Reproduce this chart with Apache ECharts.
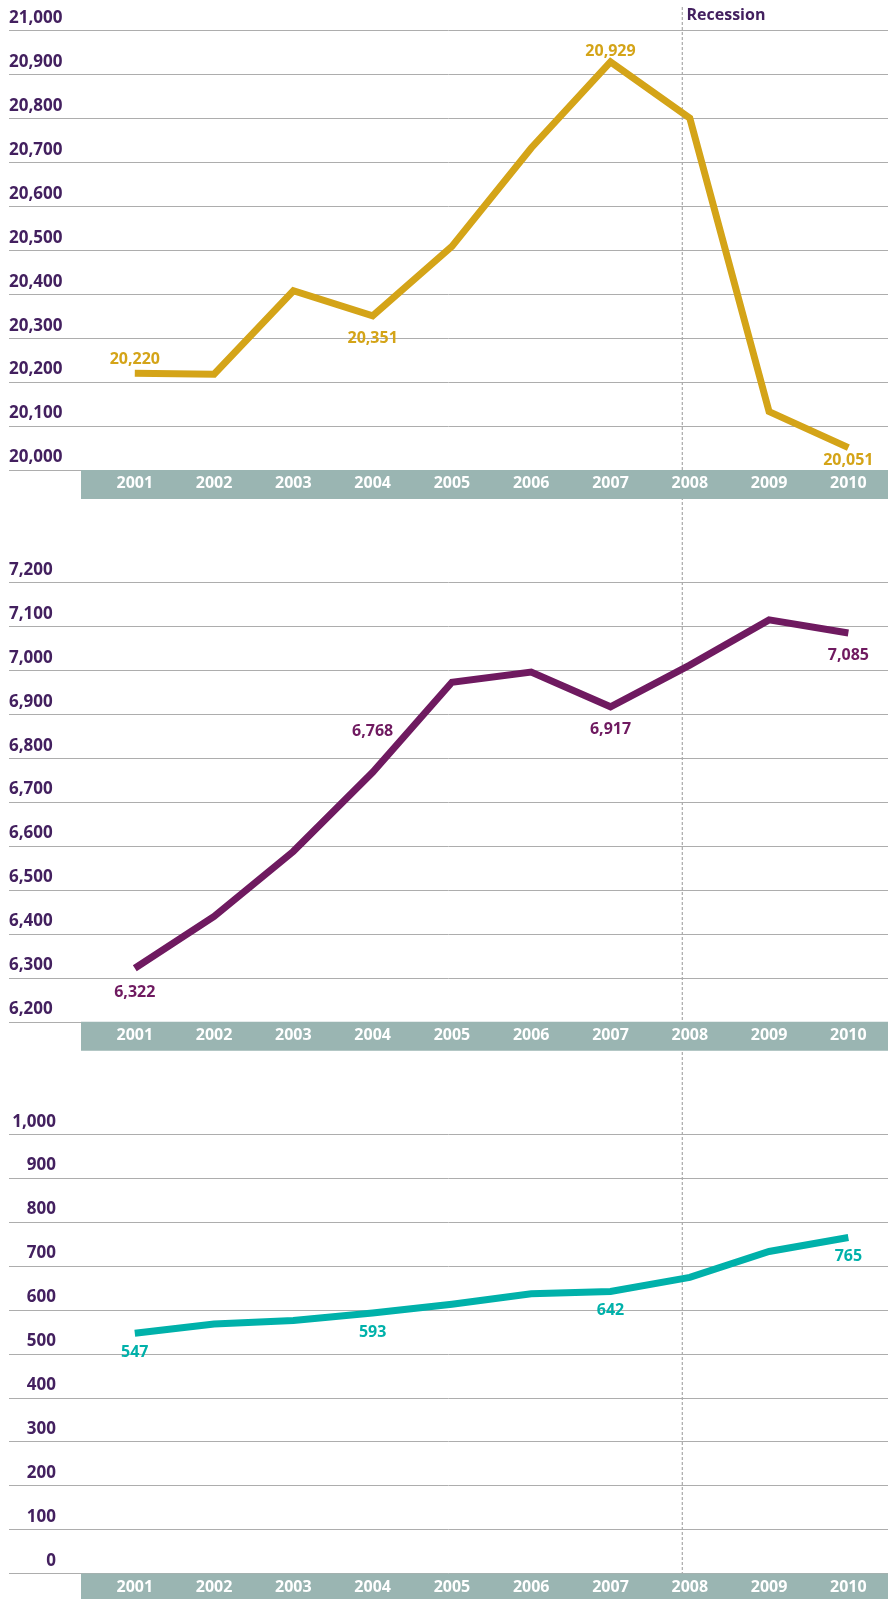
<!DOCTYPE html>
<html lang="en">
<head>
<meta charset="UTF-8">
<title>Recession</title>
<script src="https://cdn.jsdelivr.net/npm/echarts@6/dist/echarts.min.js"></script>
<style>
    html, body { margin: 0; padding: 0; background: #fff; }
    #main { width: 888px; height: 1599px; }
</style>
</head>
<body>
<div id="main"></div>
<script>
var years = ['2001', '2002', '2003', '2004', '2005', '2006', '2007', '2008', '2009', '2010'];

var topValues = [20220, 20218, 20408, 20351, 20509, 20733, 20929, 20801, 20133, 20051];
var midValues = [6322, 6440, 6588, 6768, 6973, 6996, 6917, 7012, 7115, 7085];
var lowValues = [547, 568, 576, 593, 613, 637, 642, 674, 733, 765];

// points that carry a value label
var topLabelled = [0, 3, 6, 9];
var midLabelled = [0, 3, 6, 9];
var lowLabelled = [0, 3, 6, 9];

var topRange = [20000, 21000];
var midRange = [6200, 7200];
var lowRange = [0, 1000];
var tickStep = 100;

var recessionText = 'Recession';

// layout
var panelTops = [30.7, 582.5, 1134.2];
var plotH = 439.3;
var purple = '#43205f';
var font = '"Open Sans", "Noto Sans", sans-serif';

var panels = [
    {values: topValues, range: topRange, labelled: topLabelled, color: '#d4a418',
     pos: ['top', 'bottom', 'top', 'bottom'], dist: [6, 15, 2, 5], rightAlign: false},
    {values: midValues, range: midRange, labelled: midLabelled, color: '#6f1a60',
     pos: ['bottom', 'top', 'bottom', 'bottom'], dist: [16, 33, 15, 14], rightAlign: false},
    {values: lowValues, range: lowRange, labelled: lowLabelled, color: '#00b1aa',
     pos: ['bottom', 'bottom', 'bottom', 'bottom'], dist: [11, 11, 11, 11], rightAlign: true}
];

function fmt(v) {
    return String(v).replace(/\B(?=(\d{3})+(?!\d))/g, ',');
}

var grid = [], xAxis = [], yAxis = [], series = [], graphic = [];

panels.forEach(function (p, i) {
    var top = panelTops[i];
    // grid for the gridlines and y labels (full width)
    grid.push({left: 9, right: 0, top: top, height: plotH});
    // grid for the line and the years
    grid.push({left: 95.15, width: 797, top: top, height: plotH});

    xAxis.push({gridIndex: i * 2, type: 'category', data: years, show: false});
    xAxis.push({
        gridIndex: i * 2 + 1, type: 'category', data: years, boundaryGap: true, z: 10,
        axisLine: {show: false}, axisTick: {show: false},
        axisLabel: {color: '#fff', fontFamily: font, fontWeight: 'bold', fontSize: 16,
                    lineHeight: 16, margin: 5.5, interval: 0}
    });

    yAxis.push({
        gridIndex: i * 2, type: 'value', min: p.range[0], max: p.range[1], interval: tickStep,
        axisLine: {show: false}, axisTick: {show: false},
        splitLine: {show: true, lineStyle: {color: '#adadad', width: 1}},
        axisLabel: {
            inside: true, margin: p.rightAlign ? 47 : 0, align: p.rightAlign ? 'right' : 'left',
            verticalAlign: 'bottom', lineHeight: 17, padding: [0, 0, 4, 0],
            color: purple, fontFamily: font, fontWeight: 'bold', fontSize: 17,
            formatter: fmt
        }
    });
    yAxis.push({gridIndex: i * 2 + 1, type: 'value', min: p.range[0], max: p.range[1], show: false});

    var data = p.values.map(function (v, k) {
        var j = p.labelled.indexOf(k);
        if (j < 0) return v;
        return {value: v, label: {show: true, position: p.pos[j], distance: p.dist[j]}};
    });

    series.push({
        type: 'line', xAxisIndex: i * 2 + 1, yAxisIndex: i * 2 + 1, z: 12,
        data: data, symbol: 'circle', symbolSize: 0, showSymbol: true, animation: false,
        itemStyle: {color: p.color},
        lineStyle: {color: p.color, width: 7, cap: 'butt', join: 'miter'},
        label: {show: false, color: p.color, fontFamily: font, fontWeight: 'bold', fontSize: 16,
                formatter: function (d) { return fmt(d.value); }}
    });

    // grey year band under each plot
    graphic.push({type: 'rect', z: 2, shape: {x: 81, y: top + plotH, width: 807, height: 29},
                  style: {fill: '#9ab5b2'}});
});

graphic.push({type: 'line', z: 1, shape: {x1: 682.3, y1: 7, x2: 682.3, y2: 1599},
              style: {stroke: '#a9a9a9', lineWidth: 1.2, lineDash: [3, 2]}});
graphic.push({type: 'text', z: 3, x: 686.5, y: 15,
              style: {text: recessionText, fill: purple, font: 'bold 16px ' + font, verticalAlign: 'middle'}});

var myChart = echarts.init(document.getElementById('main'));
myChart.setOption({
    animation: false,
    grid: grid,
    xAxis: xAxis,
    yAxis: yAxis,
    series: series,
    graphic: graphic
});
</script>
</body>
</html>
